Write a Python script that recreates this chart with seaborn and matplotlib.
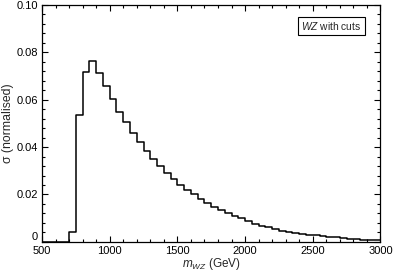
import numpy as np
import pandas as pd
import matplotlib
matplotlib.use("Agg")
import matplotlib.pyplot as plt
import seaborn as sns
from matplotlib.ticker import MultipleLocator

# bin lower edges (GeV) and normalised cross section
bin_low = list(range(500, 3000, 50))
sigma = [0.0, 0.0, 0.0, 0.0,
         0.0041, 0.0535, 0.0719, 0.0764, 0.0714, 0.0657, 0.0602, 0.0550,
         0.0504, 0.0459, 0.0421, 0.0385, 0.0348, 0.0319, 0.0292, 0.0266,
         0.0241, 0.0219, 0.0200, 0.0181, 0.0164, 0.0147, 0.0133, 0.0121,
         0.0110, 0.0100, 0.0086, 0.0077, 0.0068, 0.0061, 0.0054, 0.0048,
         0.0043, 0.0038, 0.0034, 0.0031, 0.0027, 0.0024, 0.0021, 0.0019,
         0.0016, 0.0014, 0.0012, 0.0010, 0.0008, 0.0006]
x_ticks = [500, 1000, 1500, 2000, 2500, 3000]
y_ticks = [0, 0.02, 0.04, 0.06, 0.08, 0.10]
y_ticklabels = ["0", "0.02", "0.04", "0.06", "0.08", "0.10"]

sns.set_style("ticks")
plt.rcParams['font.family'] = ['Liberation Sans', 'DejaVu Sans']
plt.rcParams['mathtext.fontset'] = 'custom'
plt.rcParams['mathtext.rm'] = 'Liberation Sans'
plt.rcParams['mathtext.it'] = 'Liberation Sans:italic'

df = pd.DataFrame({"m": np.array(bin_low) + 25, "w": sigma})
edges = list(range(500, 3001, 50))

fig = plt.figure(figsize=(3.93, 2.73), dpi=100)
ax = fig.add_axes([0.107, 0.114, 0.861, 0.868])

sns.histplot(data=df, x="m", weights="w", bins=edges, element="step",
             fill=False, color="black", linewidth=1.1, ax=ax)

ax.set_xlim(500, 3000)
ax.set_ylim(0, 0.10)
ax.set_xticks(x_ticks)
ax.set_yticks(y_ticks)
ax.set_yticklabels(y_ticklabels)
ax.xaxis.set_minor_locator(MultipleLocator(100))
ax.yaxis.set_minor_locator(MultipleLocator(0.004))
ax.tick_params(which="both", direction="in", top=True, right=True,
               labelsize=8, colors="black", width=0.8, pad=3)
ax.tick_params(which="major", length=4)
ax.tick_params(which="minor", length=2.2)
for s in ax.spines.values():
    s.set_linewidth(0.9)
    s.set_color("black")

# the "0" sits just above the corner, clear of "500"
ax.get_yticklabels()[0].set_va("bottom")

ax.set_xlabel(r"$m_{WZ}$ (GeV)", fontsize=8.5, labelpad=0)
ax.set_ylabel("σ (normalised)", fontsize=8.8, labelpad=2)

ax.text(0.855, 0.911, r"$WZ$ with cuts", transform=ax.transAxes,
        ha="center", va="center", fontsize=7.4,
        bbox=dict(boxstyle="square,pad=0.3", fc="white", ec="black", lw=0.8))

plt.savefig("out.png", dpi=100)
